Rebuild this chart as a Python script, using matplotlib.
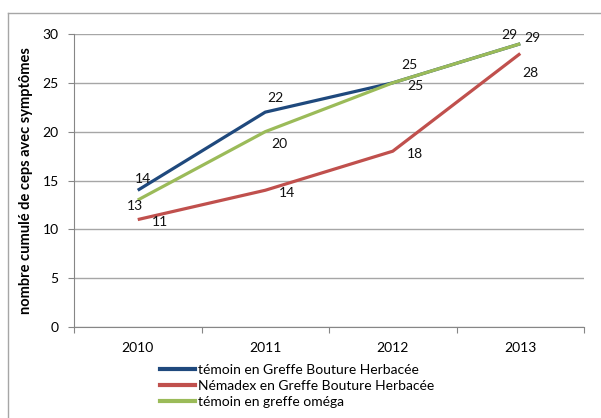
import matplotlib.pyplot as plt
from matplotlib.lines import Line2D

plt.rcParams['font.family'] = ['Lato', 'DejaVu Sans']

annees = ['2010', '2011', '2012', '2013']
temoin_gbh = [14, 22, 25, 29]
nemadex_gbh = [11, 14, 18, 28]
temoin_omega = [13, 20, 25, 29]

noms = ['témoin en Greffe Bouture Herbacée',
        'Némadex en Greffe Bouture Herbacée',
        'témoin en greffe oméga']
couleurs = ['#1F497D', '#C0504D', '#9BBB59']

# decalages des etiquettes (points) comme dans l'original
decal_bleu = [(4, 8), (7, 10), (12, 13), (-8, 6)]
decal_rouge = [(16, -2), (16, -2), (16, -2), (7, -14)]
decal_vert = [(-2, -4), (10, -9), (16, -2), (9, 4)]

fig = plt.figure(figsize=(6.01, 4.18), dpi=100)
ax = fig.add_axes([74 / 601, 91 / 418, 510 / 601, 293 / 418])

x = range(len(annees))
series = [temoin_gbh, nemadex_gbh, temoin_omega]
decals = [decal_bleu, decal_rouge, decal_vert]
for vals, nom, coul, dec in zip(series, noms, couleurs, decals):
    ax.plot(x, vals, color=coul, linewidth=2.3, label=nom, solid_capstyle='butt')
    for xi, v, d in zip(x, vals, dec):
        ax.annotate(str(v), (xi, v), xytext=d, textcoords='offset points',
                    ha='center', va='center', fontsize=10, color='#111111')

ax.set_xlim(-0.5, 3.5)
ax.set_ylim(0, 30)
ax.set_yticks(range(0, 31, 5))
ax.yaxis.grid(True, color='#A6A6A6', linewidth=1)
ax.set_axisbelow(True)

ax.set_xticks([-0.5, 0.5, 1.5, 2.5, 3.5])
ax.set_xticklabels([])
ax.set_xticks(list(x), minor=True)
ax.set_xticklabels(annees, minor=True)
ax.tick_params(axis='x', which='minor', length=0, pad=11, labelsize=10)
ax.tick_params(axis='x', which='major', length=4, color='#868686')
ax.tick_params(axis='y', length=4, pad=7, color='#868686', labelsize=10)

for s in ['top', 'right']:
    ax.spines[s].set_visible(False)
for s in ['left', 'bottom']:
    ax.spines[s].set_color('#868686')

ax.set_ylabel('nombre cumulé de ceps avec symptômes', fontsize=10.5,
              fontweight='bold', labelpad=7)

poignees = [Line2D([0], [0], color=c, linewidth=3) for c in couleurs]
fig.legend(poignees, noms, loc='upper left', bbox_to_anchor=(160 / 601, 1 - 364 / 418),
           frameon=False, fontsize=10, handlelength=2.5, handletextpad=0.25,
           labelspacing=0.3, borderpad=0, borderaxespad=0)

# cadre exterieur du graphique
fig.add_artist(Line2D([7.5 / 601, 7.5 / 601], [0, 1 - 13 / 418], color='#A6A6A6', linewidth=1))
fig.add_artist(Line2D([7.5 / 601, 1], [1 - 13 / 418, 1 - 13 / 418], color='#A6A6A6', linewidth=1))

fig.savefig('out.png', dpi=100)
